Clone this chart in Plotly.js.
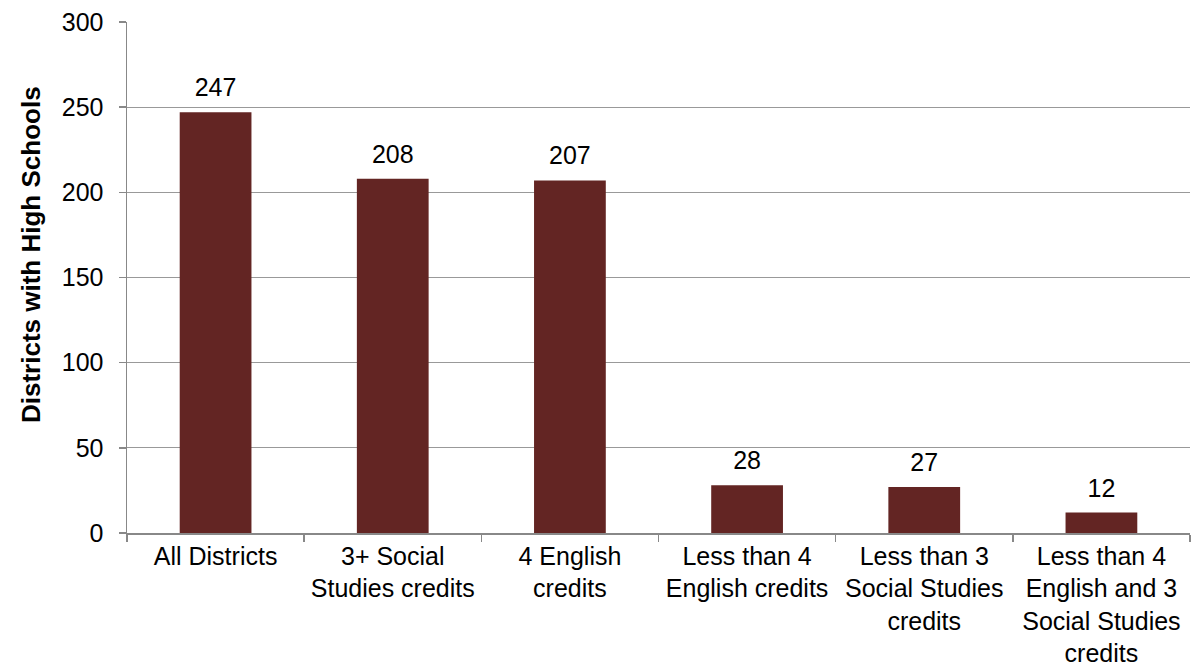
<!DOCTYPE html>
<html>
<head>
<meta charset="utf-8">
<script src="https://cdn.plot.ly/plotly-3.0.1.min.js"></script>
<style>html,body{margin:0;padding:0;background:#fff}#chart{width:1197px;height:667px}</style>
</head>
<body>
<div id="chart"></div>
<script>
const categories = [
  "All Districts",
  "3+ Social<br>Studies credits",
  "4 English<br>credits",
  "Less than 4<br>English credits",
  "Less than 3<br>Social Studies<br>credits",
  "Less than 4<br>English and 3<br>Social Studies<br>credits"
];
const values = [247, 208, 207, 28, 27, 12];
const yTickValues = [0, 50, 100, 150, 200, 250, 300];
const yTitle = "Districts with High Schools";

const FONT = "Liberation Sans, Arial, sans-serif";

const bars = {
  type: "bar",
  x: categories,
  y: values,
  marker: {color: "#632523"},
  width: 0.405,
  hoverinfo: "x+y"
};

const labels = {
  type: "scatter",
  mode: "markers+text",
  x: categories,
  y: values,
  text: values.map(String),
  textposition: "top center",
  textfont: {family: FONT, size: 25, color: "#000"},
  marker: {size: 14, opacity: 0},
  cliponaxis: false,
  hoverinfo: "skip"
};

const layout = {
  width: 1197,
  height: 667,
  margin: {l: 127, r: 7, t: 22, b: 134},
  paper_bgcolor: "#fff",
  plot_bgcolor: "#fff",
  showlegend: false,
  font: {family: FONT, size: 25, color: "#000"},
  xaxis: {
    type: "category",
    showline: true,
    linecolor: "#888",
    linewidth: 1.5,
    ticks: "outside",
    tickson: "boundaries",
    ticklen: 7,
    tickcolor: "#888",
    tickwidth: 1.5,
    showgrid: false,
    tickangle: 0,
    tickfont: {size: 25, color: "#000"}
  },
  yaxis: {
    range: [0, 300],
    tickvals: yTickValues,
    ticktext: yTickValues.map(String),
    showline: true,
    linecolor: "#888",
    linewidth: 1.5,
    ticks: "outside",
    ticklen: 7,
    tickcolor: "#888",
    tickwidth: 1.5,
    showgrid: true,
    gridcolor: "#999",
    gridwidth: 1.2,
    zeroline: false,
    ticklabelstandoff: 10,
    tickfont: {size: 25, color: "#000"}
  },
  annotations: [{
    text: "<b>" + yTitle + "</b>",
    textangle: -90,
    xref: "paper", yref: "paper",
    x: (31 - 127) / 1063, y: (533 - 255) / 511,
    xanchor: "center", yanchor: "middle",
    showarrow: false,
    font: {family: FONT, size: 26, color: "#000"}
  }],
  bargap: 0.6
};

Plotly.newPlot("chart", [bars, labels], layout, {displayModeBar: false, staticPlot: true});
</script>
</body>
</html>
